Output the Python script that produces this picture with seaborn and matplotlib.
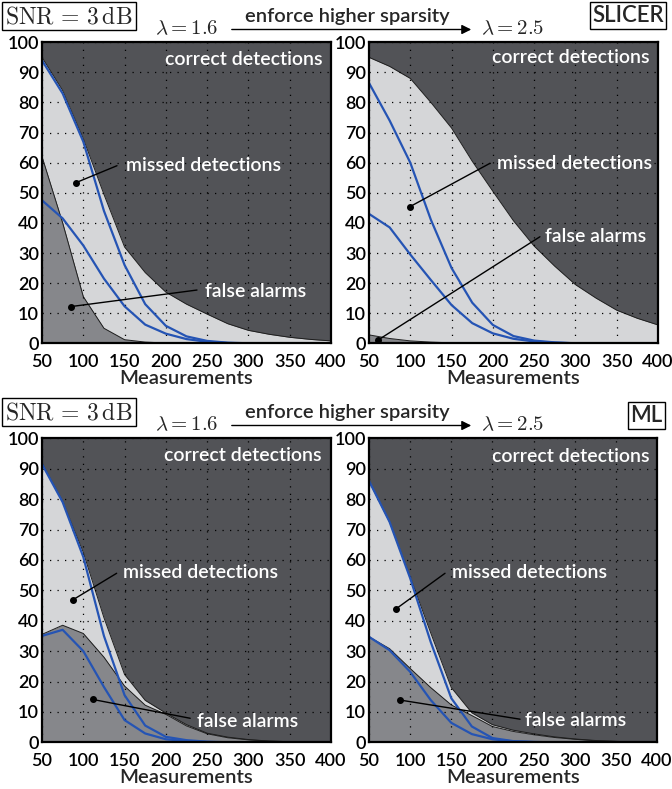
import matplotlib
matplotlib.use("Agg")
import matplotlib.pyplot as plt
from matplotlib.patches import FancyArrowPatch
import seaborn as sns

# ---------------------------------------------------------------- data
measurements = [50, 75, 100, 125, 150, 175, 200, 225, 250, 275, 300, 325, 350, 375, 400]

# SLICER, lambda = 1.6
slicer_16_missed_top = [95, 84, 68, 49.5, 32, 23.5, 17, 13, 9.7, 6.5, 4.3, 3, 2, 1.3, 0.8]
slicer_16_false_top = [62, 40, 15.5, 5, 1.2, 0.4, 0.1, 0, 0, 0, 0, 0, 0, 0, 0]
slicer_16_ref_upper = [94, 83, 67, 44, 26, 13, 5.8, 2.3, 0.8, 0.2, 0, 0, 0, 0, 0]
slicer_16_ref_lower = [47.5, 41.5, 32.5, 21.5, 12.3, 6.2, 3.2, 1.4, 0.5, 0.1, 0, 0, 0, 0, 0]

# SLICER, lambda = 2.5
slicer_25_missed_top = [95, 92, 88, 80, 71.5, 60.5, 50.5, 40.7, 32.3, 25.6, 19.5, 15, 11, 8.3, 6.1]
slicer_25_false_top = [2.8, 1.6, 0.8, 0.4, 0.15, 0.05, 0, 0, 0, 0, 0, 0, 0, 0, 0]
slicer_25_ref_upper = [86.5, 74, 60, 41, 25, 13.5, 6.1, 2.4, 0.9, 0.3, 0, 0, 0, 0, 0]
slicer_25_ref_lower = [43, 38.5, 29.5, 21, 12.7, 6.7, 3.3, 1.5, 0.6, 0.2, 0, 0, 0, 0, 0]

# ML, lambda = 1.6
ml_16_missed_top = [91.8, 79.3, 62.5, 41, 22.3, 13.8, 9.6, 5.8, 3, 1.7, 0.9, 0.4, 0.2, 0.1, 0]
ml_16_false_top = [35.5, 38.5, 35.8, 28, 18.5, 12.2, 9.2, 5.4, 2.8, 1.5, 0.8, 0.4, 0.2, 0.1, 0]
ml_16_ref_upper = [91.5, 79, 61, 35, 15.5, 5.5, 1.8, 0.7, 0.2, 0, 0, 0, 0, 0, 0]
ml_16_ref_lower = [35, 37, 30, 18.2, 7.3, 2.9, 1, 0.4, 0.1, 0, 0, 0, 0, 0, 0]

# ML, lambda = 2.5
ml_25_missed_top = [86, 72.5, 54.5, 36, 18, 9.7, 5.8, 4, 2.8, 1.8, 1.1, 0.6, 0.3, 0.1, 0]
ml_25_false_top = [34.7, 30.8, 24.3, 18, 12.3, 8.8, 5.2, 3.6, 2.5, 1.6, 1, 0.5, 0.3, 0.1, 0]
ml_25_ref_upper = [86, 72.5, 54, 33, 14.5, 5.2, 1.4, 0.4, 0.1, 0, 0, 0, 0, 0, 0]
ml_25_ref_lower = [34.7, 30.3, 23.2, 13.9, 6.4, 2.7, 1, 0.3, 0.1, 0, 0, 0, 0, 0, 0]

x_ticks = [50, 100, 150, 200, 250, 300, 350, 400]
y_ticks = [0, 10, 20, 30, 40, 50, 60, 70, 80, 90, 100]

# ---------------------------------------------------------------- style
sns.set_style("white")
plt.rcParams["font.family"] = ["Lato", "DejaVu Sans"]
plt.rcParams["font.weight"] = "semibold"
plt.rcParams["mathtext.fontset"] = "cm"

DARK = "#525357"
LIGHT = "#d5d6d8"
MID = "#86878b"
BLUE = "#2554b4"
EDGE = "#1e1e1e"
TXT = 14
TICK = 13
WEIGHT = "semibold"

W, H = 672, 789
fig = plt.figure(figsize=(W / 100, H / 100), dpi=100)


def rect(l, t, r, b):
    return [l / W, 1 - b / H, (r - l) / W, (b - t) / H]


def panel(pos, missed_top, false_top, ref_upper, ref_lower, notes):
    ax = fig.add_axes(rect(*pos))
    ax.set_facecolor(DARK)
    ax.fill_between(measurements, false_top, missed_top, color=LIGHT, lw=0, zorder=1)
    ax.fill_between(measurements, 0, false_top, color=MID, lw=0, zorder=1)
    sns.lineplot(x=measurements, y=missed_top, ax=ax, color=EDGE, lw=0.7, zorder=2)
    sns.lineplot(x=measurements, y=false_top, ax=ax, color=EDGE, lw=0.7, zorder=2)
    sns.lineplot(x=measurements, y=ref_upper, ax=ax, color=BLUE, lw=1.6, zorder=4)
    sns.lineplot(x=measurements, y=ref_lower, ax=ax, color=BLUE, lw=1.6, zorder=4)

    ax.set_xlim(50, 400)
    ax.set_ylim(0, 100)
    ax.set_xticks(x_ticks)
    ax.set_yticks(y_ticks)
    ax.grid(True, color="black", linestyle=(0, (1, 5)), linewidth=0.9)
    ax.set_axisbelow(False)
    ax.tick_params(axis="both", direction="in", length=0, labelsize=TICK, colors="black")
    ax.tick_params(axis="x", pad=8)
    ax.tick_params(axis="y", pad=2)
    for lab in ax.get_xticklabels() + ax.get_yticklabels():
        lab.set_fontweight(WEIGHT)
    for s in ax.spines.values():
        s.set_color("black")
        s.set_linewidth(1.6)
        s.set_zorder(6)
    ax.set_xlabel("Measurements", fontsize=14.5, fontweight=WEIGHT, labelpad=0)
    ax.set_ylabel("")

    cx, cy = notes["correct"]
    ax.text(cx, cy, "correct detections", color="white", fontsize=TXT,
            fontweight=WEIGHT, ha="right", va="center", zorder=7)
    for key, label in (("missed", "missed detections"), ("false", "false alarms")):
        (tx, ty), (dx, dy), (ex, ey) = notes[key]
        ax.text(tx, ty, label, color="white", fontsize=TXT, fontweight=WEIGHT,
                ha="left", va="center", zorder=7)
        ax.plot([dx, ex], [dy, ey], color="black", lw=1.0, zorder=5, clip_on=False)
        ax.plot([dx], [dy], "o", color="black", ms=4, zorder=5)
    return ax


panel((42, 42.3, 331, 343.3), slicer_16_missed_top, slicer_16_false_top,
      slicer_16_ref_upper, slicer_16_ref_lower,
      {"correct": (390, 94.4),
       "missed": ((151.7, 59), (91.4, 53.4), (140.8, 59)),
       "false": ((247.3, 17.1), (85.1, 12.2), (237.7, 17.7))})

panel((369, 42.3, 658, 343.3), slicer_25_missed_top, slicer_25_false_top,
      slicer_25_ref_upper, slicer_25_ref_lower,
      {"correct": (390, 94.8),
       "missed": ((204.6, 59.8), (99.6, 45.4), (196.5, 59.8)),
       "false": ((263, 35.4), (60.5, 1), (257, 35.4))})

panel((42, 438.3, 331, 742.3), ml_16_missed_top, ml_16_false_top,
      ml_16_ref_upper, ml_16_ref_lower,
      {"correct": (389, 94.2),
       "missed": ((148, 55.7), (87, 46.8), (140.4, 55.6)),
       "false": ((237.6, 6.8), (111.4, 14.1), (229.5, 7.9))})

panel((369, 438.3, 657, 742.3), ml_25_missed_top, ml_25_false_top,
      ml_25_ref_upper, ml_25_ref_lower,
      {"correct": (391, 94),
       "missed": ((150.5, 55.7), (82.4, 43.8), (142.4, 55.6)),
       "false": ((239.5, 7.1), (87.7, 13.9), (233.6, 7.6))})


# ---------------------------------------------------------------- headers
def ftext(x, y, s, **kw):
    return fig.text(x / W, 1 - y / H, s, **kw)


box = dict(boxstyle="square,pad=0.12", fc="white", ec="black", lw=1.0)

for dy, method, mx in ((0, "SLICER", 628), (396, "ML", 646.5)):
    ftext(69, 16 + dy, r"$\mathrm{SNR}\,=\,3\,\mathrm{dB}$", fontsize=17,
          ha="center", va="center", bbox=box)
    ftext(186.5, 28.5 + dy, r"$\lambda = 1.6$", fontsize=15, ha="center", va="center")
    ftext(513, 28.5 + dy, r"$\lambda = 2.5$", fontsize=15, ha="center", va="center")
    ftext(347.5, 16.5 + dy, "enforce higher sparsity", fontsize=14.5,
          fontweight=WEIGHT, ha="center", va="center")
    arrow = FancyArrowPatch((229 / W, 1 - (29.5 + dy) / H), (474 / W, 1 - (29.5 + dy) / H),
                            transform=fig.transFigure, arrowstyle="-|>",
                            mutation_scale=14, lw=1.0, color="black")
    fig.add_artist(arrow)
    ftext(mx, 15.5 + dy + (4 if method == "ML" else 0), method, fontsize=16,
          fontweight=WEIGHT, ha="center", va="center", bbox=box)

fig.savefig("out.png", dpi=100)
